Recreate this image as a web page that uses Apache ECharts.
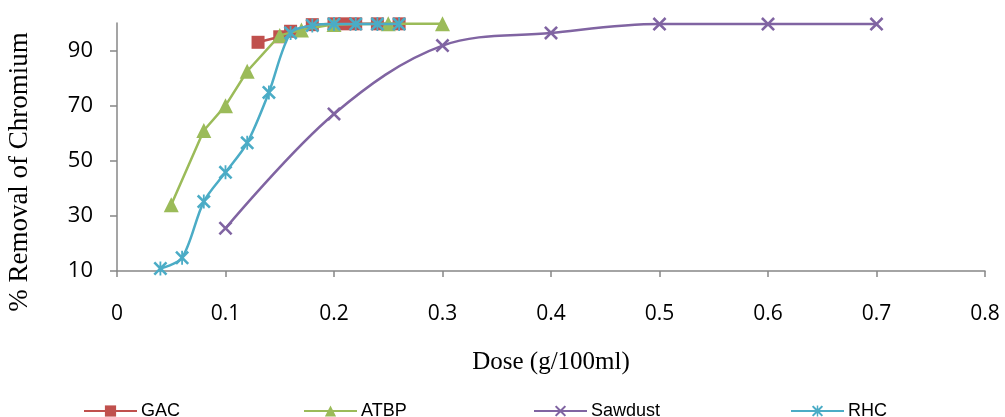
<!DOCTYPE html>
<html>
<head>
<meta charset="utf-8">
<script src="https://cdn.jsdelivr.net/npm/echarts@6/dist/echarts.min.js"></script>
<style>html,body{margin:0;padding:0;background:#fff;}#c{width:1005px;height:417px;}</style>
</head>
<body>
<div id="c"></div>
<script>
const xTicks = [0, 0.1, 0.2, 0.3, 0.4, 0.5, 0.6, 0.7, 0.8];
const yTicks = [10, 30, 50, 70, 90];

const gacDose = [0.13, 0.15, 0.16, 0.18, 0.20, 0.21, 0.22, 0.24, 0.26];
const gacRemoval = [93, 95, 97, 99.4, 99.7, 99.7, 99.7, 99.7, 99.7];

const atbpDose = [0.05, 0.08, 0.10, 0.12, 0.15, 0.17, 0.20, 0.25, 0.30];
const atbpRemoval = [34, 61, 70, 82.5, 95.5, 97.5, 99.5, 99.7, 99.7];

const sawDose = [0.1, 0.2, 0.3, 0.4, 0.5, 0.6, 0.7];
const sawRemoval = [25.5, 67, 91.8, 96.4, 99.6, 99.6, 99.6];

const rhcDose = [0.04, 0.06, 0.08, 0.10, 0.12, 0.14, 0.16, 0.18, 0.20, 0.22, 0.24, 0.26];
const rhcRemoval = [10.9, 14.8, 35.2, 45.8, 56.5, 74.8, 96.4, 99.1, 99.6, 99.6, 99.6, 99.6];

const names = ['GAC', 'ATBP', 'Sawdust', 'RHC'];
const colors = ['#C0504D', '#9BBB59', '#8064A2', '#4BACC6'];

const t = 1.3;
const xPath = 'path://M0,' + t + 'L' + t + ',0L5,' + (5 - t) + 'L' + (10 - t) + ',0L10,' + t + 'L' + (5 + t) + ',5L10,' + (10 - t) + 'L' + (10 - t) + ',10L5,' + (5 + t) + 'L' + t + ',10L0,' + (10 - t) + 'L' + (5 - t) + ',5Z';
const starPath = xPath + 'M' + (5 - t / 2) + ',0L' + (5 + t / 2) + ',0L' + (5 + t / 2) + ',10L' + (5 - t / 2) + ',10Z';

function pairs(xs, ys) { return xs.map((x, i) => [x, ys[i]]); }

const chart = echarts.init(document.getElementById('c'), null, { renderer: 'canvas' });

const legendLefts = [83, 303, 533, 790];
const legends = names.map((n, i) => ({
  data: [n],
  left: legendLefts[i],
  top: 402,
  padding: 0,
  itemWidth: 53,
  itemHeight: 14,
  itemGap: 4,
  textStyle: { fontFamily: "'Liberation Sans',sans-serif", fontSize: 18, color: '#000', padding: [0, 0, 0, -1] }
}));

const option = {
  animation: false,
  backgroundColor: '#fff',
  legend: legends,
  grid: { left: 117, right: 20, top: 23, bottom: 146, containLabel: false, outerBoundsMode: 'none' },
  xAxis: {
    type: 'value', min: 0, max: 0.8, interval: 0.1,
    name: 'Dose (g/100ml)', nameLocation: 'middle', nameGap: 79,
    nameTextStyle: { fontFamily: "'Liberation Serif','Times New Roman',serif", fontSize: 25, color: '#000' },
    axisLine: { show: true, lineStyle: { color: '#878787', width: 1.5 } },
    axisTick: { show: true, length: 6, lineStyle: { color: '#878787', width: 1.5 }, customValues: xTicks },
    axisLabel: { customValues: xTicks, margin: 33, fontFamily: "'Open Sans',sans-serif", fontSize: 21, color: '#000',
      formatter: v => String(Math.round(v * 10) / 10) },
    splitLine: { show: false }
  },
  yAxis: {
    type: 'value', min: 10, max: 100, interval: 20,
    name: '% Removal of Chromium', nameLocation: 'middle', nameGap: 84, nameRotate: 90,
    nameTextStyle: { fontFamily: "'Liberation Serif','Times New Roman',serif", fontSize: 27, color: '#000', padding: [0, 50, 0, 0] },
    axisLine: { show: true, lineStyle: { color: '#878787', width: 1.5 } },
    axisTick: { show: true, length: 7, lineStyle: { color: '#878787', width: 1.5 }, customValues: yTicks },
    axisLabel: { customValues: yTicks, margin: 24, fontFamily: "'Open Sans',sans-serif", fontSize: 22, color: '#000' },
    splitLine: { show: false }
  },
  series: [
    {
      name: 'GAC', type: 'line', data: pairs(gacDose, gacRemoval),
      symbol: 'rect', symbolSize: 13, smooth: false,
      lineStyle: { color: colors[0], width: 2.5 },
      itemStyle: { color: colors[0] }, z: 2
    },
    {
      name: 'ATBP', type: 'line', data: pairs(atbpDose, atbpRemoval),
      symbol: 'triangle', symbolSize: 15, smooth: false,
      lineStyle: { color: colors[1], width: 2.5 },
      itemStyle: { color: colors[1] }, z: 3
    },
    {
      name: 'Sawdust', type: 'line', data: pairs(sawDose, sawRemoval),
      symbol: xPath, symbolSize: 14, smooth: 0.35,
      lineStyle: { color: colors[2], width: 2.5 },
      itemStyle: { color: colors[2] }, z: 4
    },
    {
      name: 'RHC', type: 'line', data: pairs(rhcDose, rhcRemoval),
      symbol: starPath, symbolSize: 14, smooth: 0.3,
      lineStyle: { color: colors[3], width: 2.5 },
      itemStyle: { color: colors[3] }, z: 5
    }
  ]
};
chart.setOption(option);
</script>
</body>
</html>
